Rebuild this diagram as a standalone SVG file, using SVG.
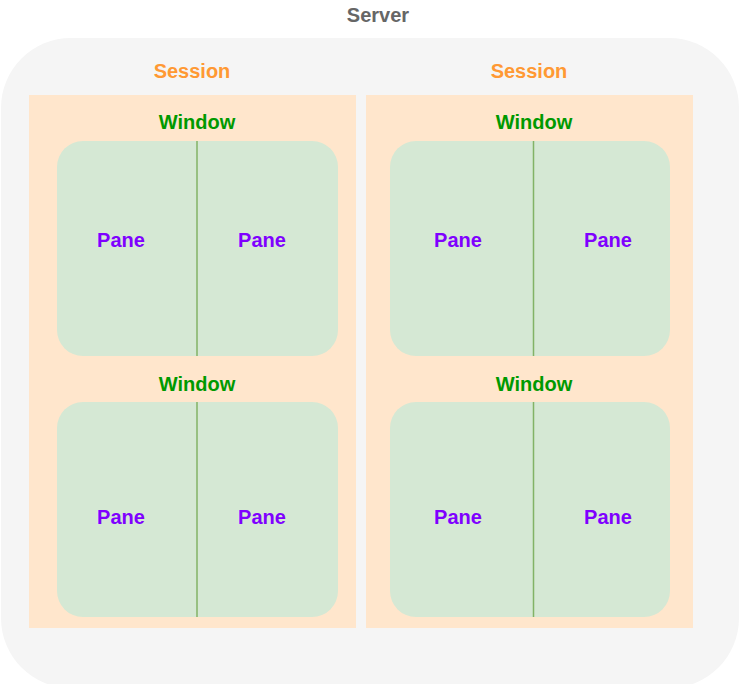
<svg xmlns="http://www.w3.org/2000/svg" width="740" height="684" viewBox="0 0 740 684">
<style>
.t{font-family:"Comic Sans MS","Liberation Sans",Arial,sans-serif;font-weight:bold;font-size:20px;text-anchor:middle;dominant-baseline:central}
.srv{fill:#666666}
.ses{fill:#FF9933}
.win{fill:#009900}
.pane{fill:#7F00FF}
.sbox{fill:#FFE6CC}
.wbox{fill:#D5E8D4}
.div{stroke:#82B366;stroke-width:1.5}
</style>
<rect width="740" height="684" fill="#ffffff"/>
<g id="server">
<rect x="1" y="38" width="738" height="650" rx="70" ry="70" fill="#F5F5F5"/>
<text class="t srv" x="378" y="15">Server</text>
</g>
<g id="session1">
<rect class="sbox" x="29" y="95" width="327" height="533"/>
<text class="t ses" x="192" y="71">Session</text>
</g>
<g id="session2">
<rect class="sbox" x="366" y="95" width="327" height="533"/>
<text class="t ses" x="529" y="71">Session</text>
</g>
<g id="window1">
<rect class="wbox" x="57" y="141" width="281" height="215" rx="26" ry="26"/>
<text class="t win" x="197" y="122">Window</text>
</g>
<g id="window2">
<rect class="wbox" x="57" y="402" width="281" height="215" rx="26" ry="26"/>
<text class="t win" x="197" y="384">Window</text>
</g>
<g id="window3">
<rect class="wbox" x="390" y="141" width="280" height="215" rx="26" ry="26"/>
<text class="t win" x="534" y="122">Window</text>
</g>
<g id="window4">
<rect class="wbox" x="390" y="402" width="280" height="215" rx="26" ry="26"/>
<text class="t win" x="534" y="384">Window</text>
</g>
<g id="connectors">
<line class="div" x1="197" y1="141" x2="197" y2="356"/>
<line class="div" x1="197" y1="402" x2="197" y2="617"/>
<line class="div" x1="533.5" y1="141" x2="533.5" y2="356"/>
<line class="div" x1="533.5" y1="402" x2="533.5" y2="617"/>
</g>
<g id="pane1"><text class="t pane" x="121" y="240">Pane</text></g>
<g id="pane2"><text class="t pane" x="262" y="240">Pane</text></g>
<g id="pane3"><text class="t pane" x="121" y="517">Pane</text></g>
<g id="pane4"><text class="t pane" x="262" y="517">Pane</text></g>
<g id="pane5"><text class="t pane" x="458" y="240">Pane</text></g>
<g id="pane6"><text class="t pane" x="608" y="240">Pane</text></g>
<g id="pane7"><text class="t pane" x="458" y="517">Pane</text></g>
<g id="pane8"><text class="t pane" x="608" y="517">Pane</text></g>
</svg>
